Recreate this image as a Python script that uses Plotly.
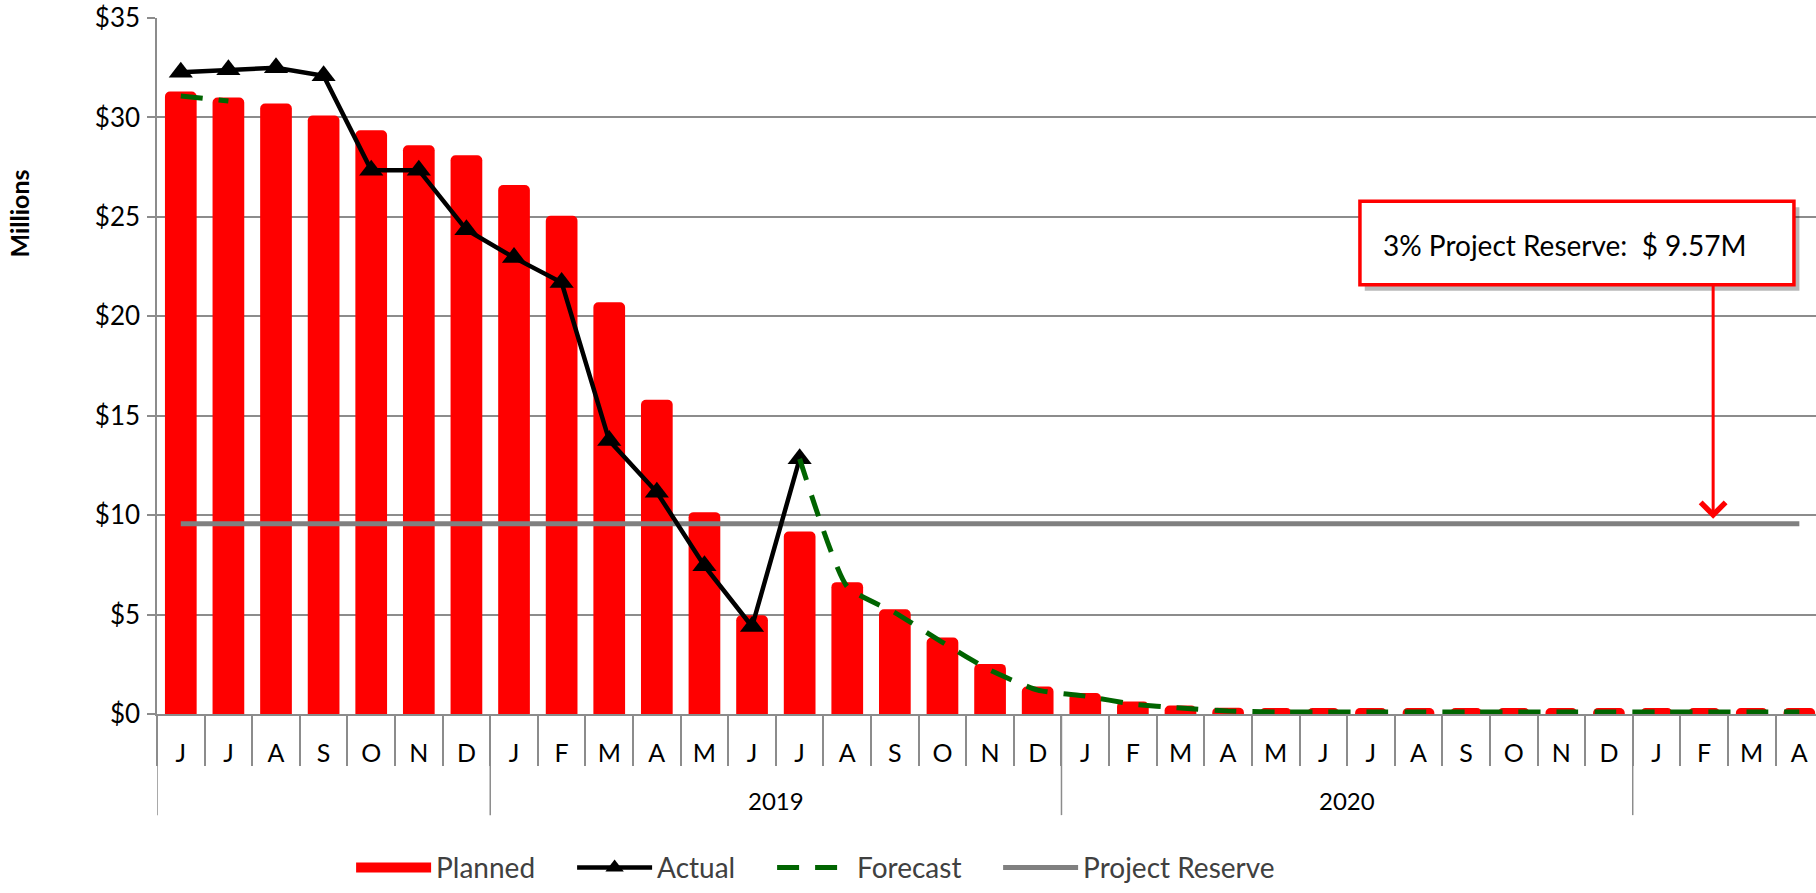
import plotly.graph_objects as go
import pandas as pd

# monthly periods shown on the category axis
periods = [
    "2018-06", "2018-07", "2018-08", "2018-09", "2018-10", "2018-11", "2018-12",
    "2019-01", "2019-02", "2019-03", "2019-04", "2019-05", "2019-06",
    "2019-07", "2019-08", "2019-09", "2019-10", "2019-11", "2019-12",
    "2020-01", "2020-02", "2020-03", "2020-04", "2020-05", "2020-06",
    "2020-07", "2020-08", "2020-09", "2020-10", "2020-11", "2020-12",
    "2021-01", "2021-02", "2021-03", "2021-04",
]

# values in $ millions
planned = [
    31.3, 31.0, 30.7, 30.1, 29.35, 28.6, 28.1,
    26.6, 25.05, 20.7, 15.8, 10.15, 4.97,
    9.18, 6.63, 5.27, 3.85, 2.52, 1.38,
    1.05, 0.63, 0.43, 0.32, 0.3, 0.3,
    0.3, 0.3, 0.3, 0.3, 0.3, 0.3,
    0.3, 0.3, 0.3, 0.3,
]
actual = [
    32.27, 32.4, 32.5, 32.1, 27.35, 27.35, 24.35,
    22.95, 21.7, 13.75, 11.15, 7.45, 4.4,
    12.83, None, None, None, None, None,
    None, None, None, None, None, None,
    None, None, None, None, None, None,
    None, None, None, None,
]
forecast = [
    31.08, 30.83, None, None, None, None, None,
    None, None, None, None, None, None,
    12.83, 6.4, 5.1, 3.6, 2.2, 1.2,
    0.9, 0.5, 0.3, 0.15, 0.1, 0.1,
    0.1, 0.1, 0.1, 0.1, 0.1, 0.1,
    0.1, 0.1, 0.1, 0.1,
]
reserve_value = 9.57
reserve_text = "3% Project Reserve:  $ 9.57M"

months = [pd.Period(p).strftime("%b")[0] for p in periods]
years = [p[:4] for p in periods]

FONT = "Lato, Carlito, Calibri, sans-serif"
GRID = "#8c8c8c"

fig = go.Figure()

fig.add_trace(go.Bar(
    x=periods, y=planned, name="Planned", legendgroup="planned", showlegend=False,
    marker=dict(color="#ff0000", cornerradius=5, line=dict(width=0)),
))
# wide red swatch for the legend, like the original chart
fig.add_trace(go.Scatter(
    x=[None], y=[None], name="Planned", legendgroup="planned", mode="lines",
    line=dict(color="#ff0000", width=26),
    legendrank=1, legendwidth=131,
))
fig.add_trace(go.Scatter(
    x=periods, y=[reserve_value] * len(periods), name="Project Reserve",
    mode="lines", line=dict(color="#808080", width=5),
    legendrank=4,
))
fig.add_trace(go.Scatter(
    x=periods, y=actual, name="Actual", mode="lines+markers",
    line=dict(color="black", width=4.5),
    marker=dict(symbol="triangle-up", size=21, color="black"),
    legendrank=2, legendwidth=110,
))
fig.add_trace(go.Scatter(
    x=periods, y=forecast, name="Forecast", mode="lines",
    line=dict(color="#006400", width=5, dash="22px,16px", shape="spline", smoothing=0.5),
    legendrank=3, legendwidth=136,
))

# year dividers under the month labels (left edge + every change of year)
bounds = [-0.5] + [i - 0.5 for i in range(1, len(years)) if years[i] != years[i - 1]]
for b in bounds:
    fig.add_shape(type="line", xref="x", yref="paper", x0=b, x1=b, y0=0, y1=-0.1453,
                  line=dict(color=GRID, width=1.5))

# year labels only for complete years
for yr in sorted(set(years)):
    idx = [i for i, y in enumerate(years) if y == yr]
    if len(idx) == 12:
        fig.add_annotation(x=(idx[0] + idx[-1]) / 2, xref="x", y=-0.124, yref="paper",
                           xanchor="center", yanchor="middle",
                           text=yr, showarrow=False, font=dict(size=24, color="black"))

# reserve callout box with shadow
fig.add_shape(type="rect", xref="paper", yref="paper", x0=0.728, x1=0.990, y0=0.608, y1=0.728,
              fillcolor="rgba(0,0,0,0.28)", line=dict(width=0), layer="above")
fig.add_shape(type="rect", xref="paper", yref="paper", x0=0.7251, x1=0.9867, y0=0.6166, y1=0.7366,
              fillcolor="white", line=dict(color="#ff0000", width=3.5), layer="above")
fig.add_annotation(x=0.7375, xref="paper", y=0.6737, yref="paper", xanchor="left", yanchor="middle",
                   text=reserve_text, showarrow=False, font=dict(size=28, color="black"))
fig.add_annotation(x=0.938, xref="paper", y=reserve_value, yref="y", text="",
                   showarrow=True, ax=0, ay=-240, arrowhead=4, arrowsize=1.6, arrowwidth=3,
                   arrowcolor="#ff0000", standoff=5)

fig.add_annotation(x=-0.0832, xref="paper", y=0.719, yref="paper", xanchor="center", yanchor="middle",
                   text="<b>Millions</b>", textangle=-90, showarrow=False,
                   font=dict(size=25, color="black"))

fig.update_layout(
    width=1816, height=893,
    margin=dict(l=157, r=0, t=18, b=175),
    plot_bgcolor="white", paper_bgcolor="white",
    font=dict(family=FONT, color="black"),
    bargap=0.334,
    showlegend=True,
    legend=dict(orientation="h", x=0.117, xanchor="left", y=-0.221, yanchor="middle",
                itemwidth=75, font=dict(size=28, color="#404040"), traceorder="normal"),
    xaxis=dict(
        type="category", categoryorder="array", categoryarray=periods,
        tickmode="array", tickvals=periods, ticktext=months,
        range=[-0.5, 34.35], tickson="boundaries", ticks="outside", ticklen=50,
        tickcolor=GRID, tickwidth=1.5, ticklabelstandoff=16,
        showline=True, linecolor=GRID, linewidth=1.5, showgrid=False,
        tickfont=dict(size=25, color="black"),
    ),
    yaxis=dict(
        range=[0, 35], dtick=5, tickprefix="$", showgrid=True, gridcolor=GRID, gridwidth=1.5,
        showline=True, linecolor=GRID, linewidth=1.5, zeroline=False,
        ticks="outside", ticklen=8, tickcolor=GRID, tickwidth=1.5, ticklabelstandoff=2,
        tickfont=dict(size=26, color="black"),
    ),
)

# the page's default body margin would shift the 1816x893 figure off the window
fig.write_html("out.html", config={"displayModeBar": False},
               post_script="document.body.style.margin = '0';")
